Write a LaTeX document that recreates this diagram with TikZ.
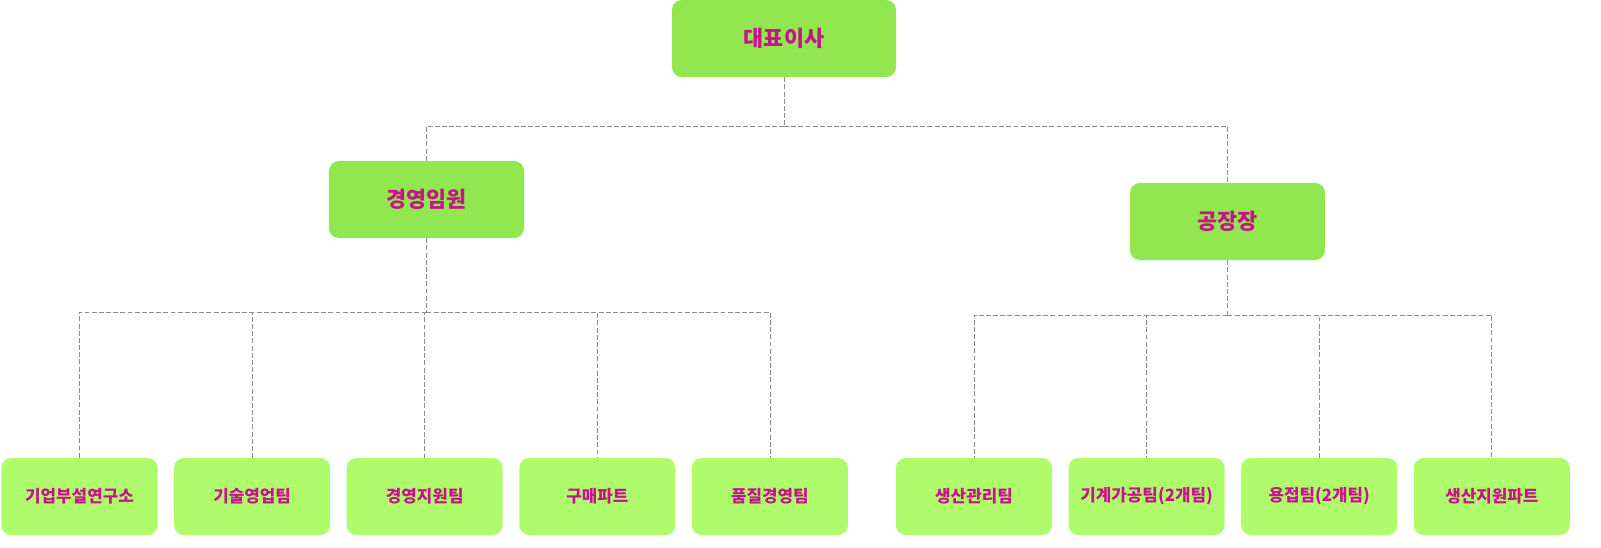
\documentclass[tikz,border=0pt]{standalone}
\usepackage{fontspec}
\setmainfont{Noto Sans CJK KR}
\usepackage{tikz}
\usetikzlibrary{positioning}
\definecolor{headgreen}{HTML}{92E650}
\definecolor{teamgreen}{HTML}{AEFC6C}
\definecolor{labelpink}{HTML}{C8138C}
\definecolor{linkgray}{HTML}{8A8A8A}

\begin{document}
\begin{tikzpicture}
[x=0.025cm, y=-0.025cm, font=\bfseries\fontsize{12}{14}\selectfont,
% STYLES
% The head style is used for the upper boxes
head/.style={rectangle, rounded corners=7pt, fill=headgreen, text=labelpink, inner sep=0pt, minimum height=1.925cm, font=\bfseries\fontsize{15.5}{18}\selectfont},
% The team style is used for the boxes of the lowest row
team/.style={rectangle, rounded corners=7pt, fill=teamgreen, text=labelpink, inner sep=0pt, minimum width=3.9cm, minimum height=1.925cm, node distance=0.4cm},
% dashed connectors
link/.style={draw=linkgray, dash pattern=on 3.5pt off 1.6pt, line width=0.6pt}]

\useasboundingbox (0,0) rectangle (1601,547);

% Draw heads
\node [head, minimum width=5.6cm] (ceo) at (784,38.5) {대표이사};
\node [head, minimum width=4.875cm] (exec) at (426.5,199.5) {경영임원};
\node [head, minimum width=4.875cm] (plant) at (1227.5,221.5) {공장장};

% Draw teams
\node [team] (lab) at (79.5,496.5) {기업부설연구소};
\node [team, right=of lab] (sales) {기술영업팀};
\node [team, right=of sales] (support) {경영지원팀};
\node [team, right=of support] (purchase) {구매파트};
\node [team, right=of purchase] (quality) {품질경영팀};

\node [team] (prodmgmt) at (974,496.5) {생산관리팀};
\node [team, right=of prodmgmt] (machining) {기계가공팀(2개팀)};
\node [team, right=of machining] (welding) {용접팀(2개팀)};
\node [team, right=of welding] (prodsupport) {생산지원파트};

% Junctions
\coordinate (j-ceo) at (785,126);
\coordinate (j-exec) at (422,312);
\coordinate (j-plant) at (1228,315);

% Draw the links
\path[link] (ceo) -- (ceo |- j-ceo);
\path[link] (ceo |- j-ceo) -| (exec);
\path[link] (ceo |- j-ceo) -| (plant);
\path[link] (exec) -- (exec |- j-exec);
\foreach \t in {lab,sales,support,purchase,quality}
  \path[link] (exec |- j-exec) -| (\t);
\path[link] (plant) -- (plant |- j-plant);
\foreach \t in {prodmgmt,machining,welding,prodsupport}
  \path[link] (plant |- j-plant) -| (\t);

\end{tikzpicture}
\end{document}
